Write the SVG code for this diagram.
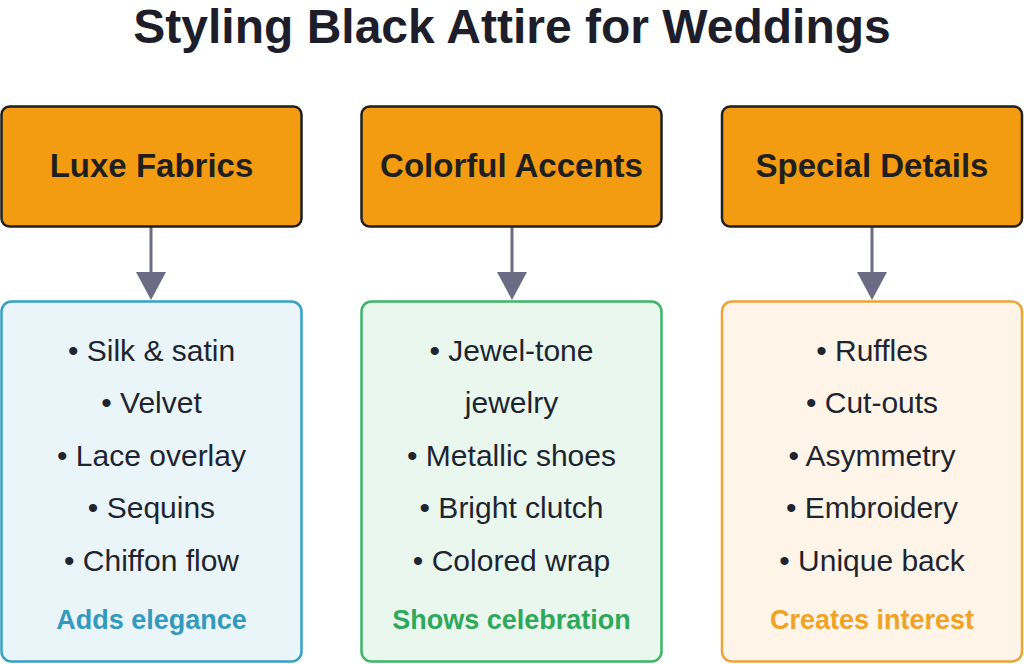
<svg xmlns="http://www.w3.org/2000/svg" width="1024" height="664" viewBox="0 0 1024 664">
<style>
.title{font-family:"Liberation Sans",Arial,sans-serif;font-weight:bold;font-size:48px;fill:#1e1e2a;text-anchor:middle}
.hdr rect{fill:#f39c12;stroke:#1f1f1f;stroke-width:2.5}
.hdr text{font-family:"Liberation Sans",Arial,sans-serif;font-weight:bold;font-size:33px;fill:#1f1f1f;text-anchor:middle}
.item{font-family:"Liberation Sans",Arial,sans-serif;font-size:30px;fill:#1e2530;text-anchor:middle}
.foot{font-family:"Liberation Sans",Arial,sans-serif;font-weight:bold;font-size:27px;text-anchor:middle}
.conn line{stroke:#6b6b85;stroke-width:3}
.conn path{fill:#6b6b85}
</style>
<rect width="1024" height="664" fill="#ffffff"/>
<text class="title" x="512" y="43">Styling Black Attire for Weddings</text>

<g id="connectors" class="conn">
  <line x1="151" y1="227" x2="151" y2="274"/>
  <path d="M136,272 L166,272 L151,300 Z"/>
  <line x1="512" y1="227" x2="512" y2="274"/>
  <path d="M497,272 L527,272 L512,300 Z"/>
  <line x1="872" y1="227" x2="872" y2="274"/>
  <path d="M857,272 L887,272 L872,300 Z"/>
</g>

<g id="header-luxe" class="hdr">
  <rect x="1.5" y="106.5" width="300" height="120" rx="8"/>
  <text x="151.5" y="177">Luxe Fabrics</text>
</g>
<g id="header-colorful" class="hdr">
  <rect x="361.5" y="106.5" width="300" height="120" rx="8"/>
  <text x="511.5" y="177">Colorful Accents</text>
</g>
<g id="header-special" class="hdr">
  <rect x="722" y="106.5" width="300" height="120" rx="8"/>
  <text x="872" y="177">Special Details</text>
</g>

<g id="box-luxe">
  <rect x="1.5" y="301.5" width="300" height="360" rx="10" fill="#eaf5f9" stroke="#35a1c6" stroke-width="2.5"/>
  <text class="item" x="151.5" y="361">• Silk &amp; satin</text>
  <text class="item" x="151.5" y="413">• Velvet</text>
  <text class="item" x="151.5" y="466">• Lace overlay</text>
  <text class="item" x="151.5" y="518">• Sequins</text>
  <text class="item" x="151.5" y="571">• Chiffon flow</text>
  <text class="foot" x="151.5" y="629" fill="#3399bd">Adds elegance</text>
</g>
<g id="box-colorful">
  <rect x="361.5" y="301.5" width="300" height="360" rx="10" fill="#e9f7ee" stroke="#3db56a" stroke-width="2.5"/>
  <text class="item" x="511.5" y="361">• Jewel-tone</text>
  <text class="item" x="511.5" y="413">jewelry</text>
  <text class="item" x="511.5" y="466">• Metallic shoes</text>
  <text class="item" x="511.5" y="518">• Bright clutch</text>
  <text class="item" x="511.5" y="571">• Colored wrap</text>
  <text class="foot" x="511.5" y="629" fill="#2ea85a">Shows celebration</text>
</g>
<g id="box-special">
  <rect x="722" y="301.5" width="300" height="360" rx="10" fill="#fef5e8" stroke="#eba43a" stroke-width="2.5"/>
  <text class="item" x="872" y="361">• Ruffles</text>
  <text class="item" x="872" y="413">• Cut-outs</text>
  <text class="item" x="872" y="466">• Asymmetry</text>
  <text class="item" x="872" y="518">• Embroidery</text>
  <text class="item" x="872" y="571">• Unique back</text>
  <text class="foot" x="872" y="629" fill="#f0a226">Creates interest</text>
</g>
</svg>
